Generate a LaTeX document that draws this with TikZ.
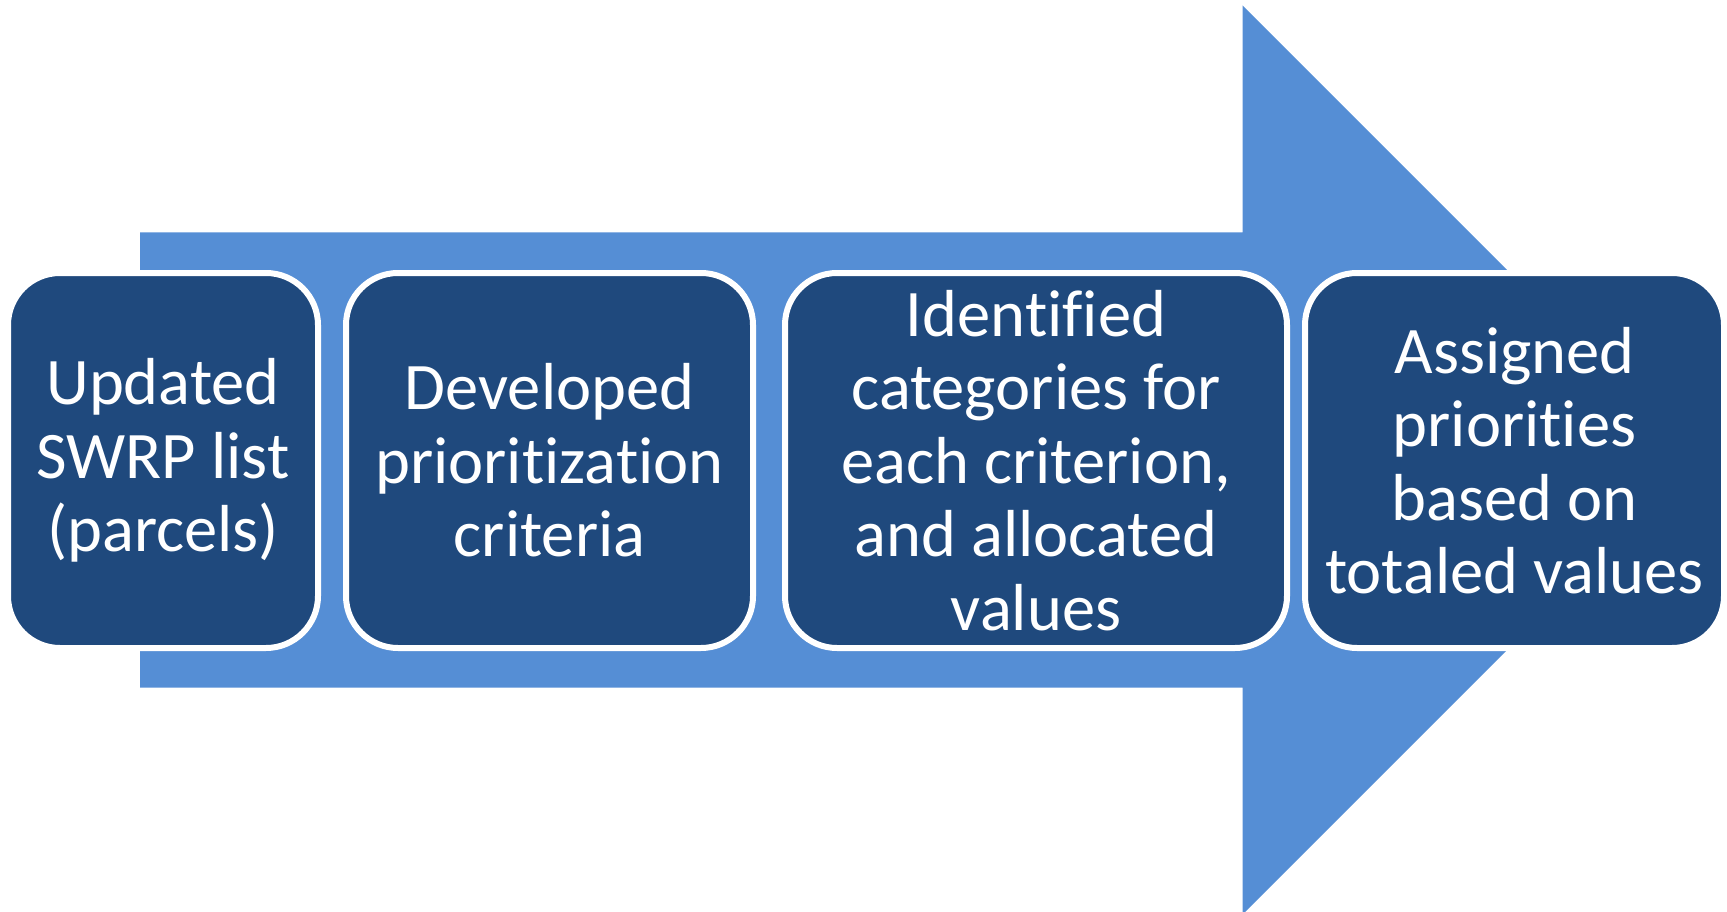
\documentclass[tikz,border=0pt]{standalone}
\usepackage{fontspec}
\setmainfont{Carlito}[Ligatures=NoCommon]
\definecolor{arrowblue}{HTML}{558ED5}
\definecolor{boxblue}{HTML}{1F497D}
\begin{document}
\begin{tikzpicture}[x=1pt,y=-1pt,
  stepbox/.style={draw=white, line width=6pt, fill=boxblue, rounded corners=52pt,
    inner sep=0pt, outer sep=0pt, text=white, align=center,
    minimum height=375pt, font=\fontsize{66.5}{73.5}\selectfont}]
\useasboundingbox (0,0) rectangle (1727,912);
\clip (0,0) rectangle (1727,912);
\fill[arrowblue] (140,232.5) -- (1242.5,232.5) -- (1242.5,5.5) -- (1697,460)
  -- (1242.5,914.5) -- (1242.5,687.5) -- (140,687.5) -- cycle;
\node[stepbox, minimum width=310pt] (s1) at (163,460.5) {Updated\\SWRP list\\(parcels)};
\node[stepbox, minimum width=407pt] (s2) at (549.5,460.5) {Developed\\prioritization\\criteria};
\node[stepbox, minimum width=502pt] (s3) at (1036,460.5) {Identified\\categories for\\each criterion,\\and allocated\\values};
\node[stepbox, minimum width=419pt] (s4) at (1514.5,460.5) {Assigned\\priorities\\based on\\totaled values};
\end{tikzpicture}
\end{document}
